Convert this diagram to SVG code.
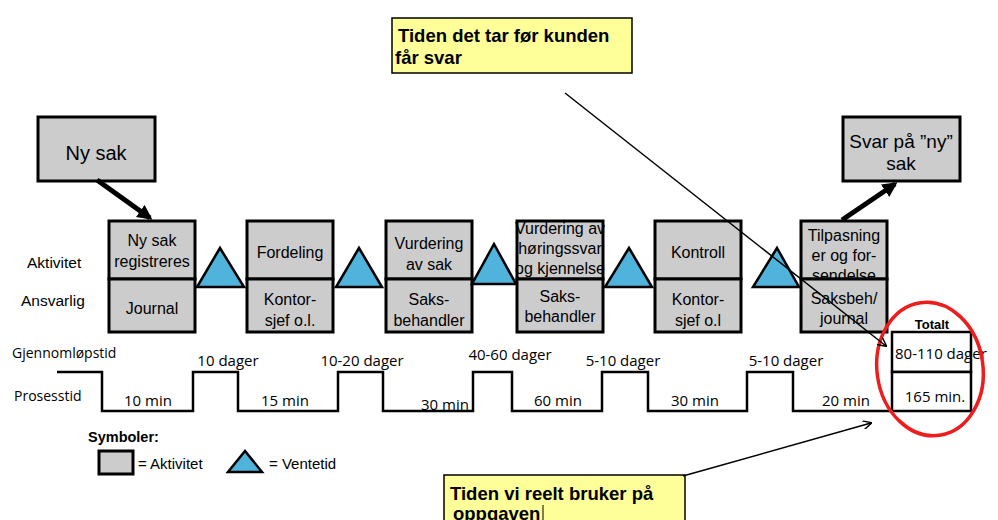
<svg xmlns="http://www.w3.org/2000/svg" width="998" height="520" viewBox="0 0 998 520">
<defs>
<style>
.box{fill:#cccccc;stroke:#000;stroke-width:3}
.tri{fill:#4fb3dc;stroke:#000;stroke-width:2.5;stroke-linejoin:miter}
.t{font-family:"Liberation Sans",Arial,sans-serif;font-size:16px;fill:#000;text-anchor:middle}
.lbl{font-family:"Liberation Sans",Arial,sans-serif;font-size:15.5px;fill:#000}
.tl{font-family:"Open Sans","Liberation Sans",sans-serif;font-size:15px;fill:#000;text-anchor:middle}
.yb{fill:#ffff99;stroke:#000;stroke-width:1.5}
.yt{font-family:"Liberation Sans",Arial,sans-serif;font-size:18.5px;font-weight:bold;fill:#000}
.thick{stroke:#000;stroke-width:5;fill:none}
.thin{stroke:#000;stroke-width:1.5;fill:none}
</style>
<marker id="ah" viewBox="0 0 10 10" refX="8" refY="5" markerWidth="3" markerHeight="3" orient="auto"><path d="M0,0 L10,5 L0,10 z" fill="#000"/></marker>
<marker id="ao" viewBox="0 0 10 10" refX="9" refY="5" markerWidth="9" markerHeight="9" markerUnits="userSpaceOnUse" orient="auto"><path d="M0,0 L10,5 L0,10" fill="none" stroke="#000" stroke-width="1.6"/></marker>
</defs>
<rect width="998" height="520" fill="#fff"/>

<g id="ny-sak">
<rect class="box" x="38" y="117" width="117" height="64"/>
<text class="t" x="96" y="160" style="font-size:20px">Ny sak</text>
</g>
<g id="svar">
<rect class="box" x="843" y="117" width="117" height="64"/>
<text class="t" x="901" y="148" style="font-size:19px">Svar på ”ny”</text>
<text class="t" x="901" y="170" style="font-size:19px">sak</text>
</g>

<g id="row-labels">
<text class="lbl" x="27" y="268">Aktivitet</text>
<text class="lbl" x="21" y="306">Ansvarlig</text>
</g>

<g id="act1">
<rect class="box" x="109" y="221" width="86" height="58"/>
<rect class="box" x="109" y="279" width="86" height="53"/>
<text class="t" x="152" y="246">Ny sak</text>
<text class="t" x="152" y="267">registreres</text>
<text class="t" x="152" y="314">Journal</text>
</g>
<g id="act2">
<rect class="box" x="247" y="221" width="86" height="58"/>
<rect class="box" x="247" y="279" width="86" height="53"/>
<text class="t" x="290" y="258">Fordeling</text>
<text class="t" x="290" y="305">Kontor-</text>
<text class="t" x="290" y="326">sjef o.l.</text>
</g>
<g id="act3">
<rect class="box" x="386" y="221" width="86" height="58"/>
<rect class="box" x="386" y="279" width="86" height="53"/>
<text class="t" x="429" y="249">Vurdering</text>
<text class="t" x="429" y="270">av sak</text>
<text class="t" x="429" y="305">Saks-</text>
<text class="t" x="429" y="326">behandler</text>
</g>
<g id="act4">
<rect class="box" x="517" y="221" width="86" height="58"/>
<text class="t" x="560" y="234">Vurdering av</text>
<text class="t" x="560" y="254">høringssvar</text>
<text class="t" x="560" y="274">og kjennelse</text>
<rect class="box" x="517" y="279" width="86" height="53"/>
<text class="t" x="560" y="302">Saks-</text>
<text class="t" x="560" y="322">behandler</text>
</g>
<g id="act5">
<rect class="box" x="655" y="221" width="86" height="58"/>
<rect class="box" x="655" y="279" width="86" height="53"/>
<text class="t" x="698" y="258">Kontroll</text>
<text class="t" x="698" y="305">Kontor-</text>
<text class="t" x="698" y="326">sjef o.l</text>
</g>
<g id="act6">
<rect class="box" x="801" y="221" width="86" height="58"/>
<text class="t" x="844" y="241">Tilpasning</text>
<text class="t" x="844" y="261">er og for-</text>
<text class="t" x="844" y="281">sendelse</text>
<rect class="box" x="801" y="279" width="86" height="53"/>
<text class="t" x="844" y="304">Saksbeh/</text>
<text class="t" x="844" y="324">journal</text>
</g>

<g id="waits">
<polygon class="tri" points="220,248 197,287 244,287"/>
<polygon class="tri" points="359,248 336,287 382,287"/>
<polygon class="tri" points="494,244 472,284 516,284"/>
<polygon class="tri" points="629,248 605,287 652,287"/>
<polygon class="tri" points="777,248 753,287 799,287"/>
</g>

<g id="timeline">
<polyline fill="none" stroke="#000" stroke-width="2.5" points="57,372 102,372 102,411 193,411 193,372 238,372 238,411 338,411 338,372 383,372 383,411 473,411 473,372 512,372 512,411 602,411 602,372 648,372 648,411 747,411 747,372 793,372 793,411 892,411"/>
<text class="lbl" x="12" y="358" style="font-family:'Open Sans','Liberation Sans',sans-serif;font-size:14px">Gjennomløpstid</text>
<text class="lbl" x="14" y="401" style="font-family:'Open Sans','Liberation Sans',sans-serif;font-size:14px">Prosesstid</text>
<text class="tl" x="148" y="406">10 min</text>
<text class="tl" x="228" y="366">10 dager</text>
<text class="tl" x="285" y="406">15 min</text>
<text class="tl" x="362" y="366">10-20 dager</text>
<text class="tl" x="445" y="410">30 min</text>
<text class="tl" x="510" y="360">40-60 dager</text>
<text class="tl" x="558" y="406">60 min</text>
<text class="tl" x="623" y="366">5-10 dager</text>
<text class="tl" x="695" y="406">30 min</text>
<text class="tl" x="786" y="366">5-10 dager</text>
<text class="tl" x="846" y="406">20 min</text>
</g>

<g id="totals">
<rect x="892" y="332" width="79" height="40" fill="#fff" stroke="#000" stroke-width="2.5"/>
<rect x="892" y="372" width="79" height="39" fill="#fff" stroke="#000" stroke-width="2.5"/>
<text x="932" y="329" style="font-family:'Liberation Sans',Arial,sans-serif;font-size:13px;font-weight:bold;text-anchor:middle">Totalt</text>
<text class="tl" x="895" y="359" style="text-anchor:start">80-110 dager</text>
<text class="tl" x="935" y="402">165 min.</text>
<ellipse cx="930" cy="369" rx="53" ry="67" transform="rotate(-8 930 369)" fill="none" stroke="#ee1c1c" stroke-width="3.5"/>
</g>

<g id="legend">
<text x="88" y="442" style="font-family:'Liberation Sans',Arial,sans-serif;font-size:14.5px;font-weight:bold">Symboler:</text>
<rect class="box" x="99" y="451" width="34" height="23"/>
<text x="138" y="469" style="font-family:'Liberation Sans',Arial,sans-serif;font-size:15px">= Aktivitet</text>
<polygon class="tri" points="245,451 228,472 262,472"/>
<text x="269" y="469" style="font-family:'Liberation Sans',Arial,sans-serif;font-size:15px">= Ventetid</text>
</g>

<g id="note-top">
<rect class="yb" x="392" y="18" width="240" height="55"/>
<text class="yt" x="398" y="42"> Tiden det tar før kunden</text>
<text class="yt" x="395" y="64">får svar</text>
</g>
<g id="note-bottom">
<rect class="yb" x="444" y="475" width="241" height="50"/>
<text class="yt" x="450" y="500"> Tiden vi reelt bruker på</text>
<text class="yt" x="453" y="520">oppgaven</text>
<line x1="543" y1="505" x2="543" y2="520" stroke="#000" stroke-width="1"/>
</g>

<g id="connectors">
<line class="thick" x1="97" y1="180" x2="150" y2="218" marker-end="url(#ah)"/>
<line class="thick" x1="842" y1="220" x2="895" y2="184" marker-end="url(#ah)"/>
<line class="thin" x1="565" y1="93" x2="886" y2="346" marker-end="url(#ao)"/>
<line class="thin" x1="683" y1="476" x2="871" y2="423" marker-end="url(#ao)"/>
</g>
</svg>
